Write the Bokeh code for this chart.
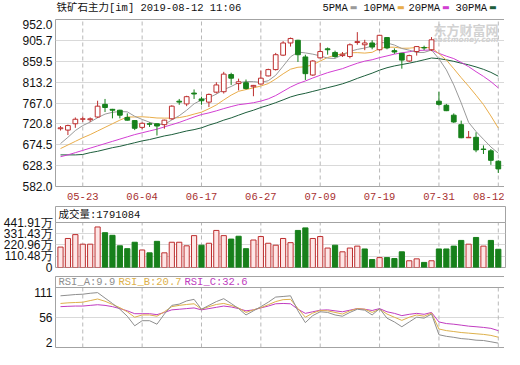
from bokeh.plotting import figure
from bokeh.layouts import column
from bokeh.models import Range1d, FixedTicker, Label, Span
from bokeh.embed import file_html
from bokeh.resources import INLINE

# ---------------- data ----------------
title_text = "铁矿石主力[im] 2019-08-12 11:06"

dates = ["05-20", "05-21", "05-22", "05-23", "05-24", "05-27", "05-28", "05-29", "05-30", "05-31",
         "06-03", "06-04", "06-05", "06-06", "06-10", "06-11", "06-12", "06-13", "06-14", "06-17",
         "06-18", "06-19", "06-20", "06-21", "06-24", "06-25", "06-26", "06-27", "06-28", "07-01",
         "07-02", "07-03", "07-04", "07-05", "07-08", "07-09", "07-10", "07-11", "07-12", "07-15",
         "07-16", "07-17", "07-18", "07-19", "07-22", "07-23", "07-24", "07-25", "07-26", "07-29",
         "07-30", "07-31", "08-01", "08-02", "08-05", "08-06", "08-07", "08-08", "08-09", "08-12"]

tick_dates = ["05-23", "06-04", "06-17", "06-27", "07-09", "07-19", "07-31", "08-12"]

opens = [710, 707, 721, 731, 730, 736, 764, 753, 751, 735,
         728, 713, 721, 721, 719, 732, 771, 765, 789, 776,
         769, 791, 792, 830, 810, 812, 803, 809, 827, 841,
         873, 900, 906, 869, 829, 867, 887, 879, 872, 870,
         901, 896, 900, 885, 912, 883, 877, 860, 881, 890,
         885, 771, 762, 740, 719, 690, 691, 665, 661, 638]
highs = [716, 719, 735, 737, 735, 772, 776, 754, 752, 744,
         729, 724, 724, 722, 730, 762, 776, 783, 797, 781,
         788, 813, 836, 834, 821, 819, 807, 839, 843, 878,
         904, 912, 907, 874, 862, 900, 890, 883, 880, 899,
         924, 907, 906, 918, 913, 888, 878, 874, 893, 894,
         913, 792, 765, 744, 728, 705, 702, 673, 665, 640]
lows = [706, 696, 712, 725, 725, 734, 747, 733, 733, 728,
        707, 709, 714, 695, 710, 730, 763, 760, 776, 763,
        758, 788, 788, 807, 795, 797, 782, 808, 826, 839,
        871, 892, 858, 818, 827, 866, 874, 867, 869, 866,
        896, 884, 886, 883, 886, 876, 843, 858, 872, 884,
        882, 761, 749, 723, 689, 690, 658, 654, 630, 612]
closes = [712, 717, 731, 732, 732, 760, 757, 751, 740, 729,
          711, 722, 720, 716, 729, 760, 769, 781, 787, 772,
          786, 807, 831, 822, 814, 799, 806, 822, 841, 874,
          900, 910, 874, 832, 860, 881, 885, 870, 875, 896,
          903, 900, 891, 917, 889, 880, 862, 872, 892, 889,
          907, 764, 750, 725, 690, 691, 663, 664, 640, 621]

ma5 = [677, 691, 706, 717, 724.8, 734.4, 742.4, 746.4, 748.0, 747.4,
       737.6, 730.6, 724.4, 719.6, 719.6, 729.4, 738.8, 751.0, 765.2, 773.8,
       779.0, 786.6, 796.6, 803.6, 812.0, 814.6, 814.4, 812.6, 816.4, 828.4,
       848.6, 869.4, 879.8, 878.0, 875.2, 871.4, 866.4, 865.6, 874.2, 881.4,
       885.8, 888.8, 893.0, 901.4, 900.0, 895.4, 887.8, 884.0, 879.0, 879.0,
       884.4, 864.8, 840.4, 807.0, 767.2, 724.0, 703.8, 686.6, 669.6, 655.8]
ma10 = [666, 674, 682, 690, 697, 705, 713, 721, 729, 736.1,
        736.0, 736.5, 735.4, 733.8, 733.5, 733.5, 734.7, 737.7, 742.4, 746.7,
        754.2, 762.7, 773.8, 784.4, 792.9, 796.8, 800.5, 804.6, 810.0, 820.2,
        831.6, 841.9, 846.2, 847.2, 851.8, 860.0, 867.9, 872.7, 876.1, 878.3,
        878.6, 877.6, 879.3, 887.8, 890.7, 890.6, 888.3, 888.5, 890.2, 889.5,
        889.9, 876.3, 862.2, 843.0, 823.1, 804.2, 784.3, 763.5, 738.3, 711.5]
ma20 = [648, 652, 657, 662, 667, 672, 677, 682, 687, 692,
        697, 701, 705, 709, 714, 719, 724, 730, 736, 741.4,
        745.1, 749.6, 754.6, 759.1, 763.2, 765.2, 767.6, 771.2, 776.2, 783.5,
        792.9, 802.3, 810.0, 815.8, 822.4, 828.4, 834.2, 838.7, 843.1, 849.3,
        855.1, 859.8, 862.8, 867.5, 871.3, 875.3, 878.1, 880.6, 883.2, 883.9,
        884.3, 877.0, 870.8, 865.4, 857.0, 847.5, 836.4, 826.0, 814.3, 800.5]
ma30 = [652, 652, 652, 653, 657, 660, 664, 668, 671, 675,
        679, 683, 686, 690, 694, 697, 701, 705, 708, 712,
        718, 723, 729, 734, 740, 746, 751, 757, 762, 767.7,
        773.9, 780.4, 785.1, 788.5, 792.7, 796.8, 801.0, 805.0, 809.5, 815.1,
        821.5, 827.4, 833.1, 839.8, 845.1, 849.1, 852.2, 855.3, 858.8, 862.7,
        866.7, 865.3, 862.6, 859.3, 855.2, 851.6, 846.9, 841.6, 834.9, 826.4]

# volume in 万 (10k)
volume = [200.6, 285, 323, 229, 229, 398, 342, 316, 213, 185,
          248, 172, 144, 257, 144, 248, 248, 213, 313, 219,
          238, 364, 313, 279, 307, 185, 270, 304, 238, 219,
          285, 244, 364, 389, 285, 304, 191, 219, 154, 191,
          210, 182, 78, 97, 97, 88, 154, 66, 85, 50,
          66, 182, 182, 210, 266, 229, 295, 210, 266, 179.1084]
# 1 = red (rising) bar, 0 = green (falling) bar
volume_up = [1, 1, 1, 1, 1, 1, 0, 0, 0, 0,
             0, 1, 0, 0, 1, 1, 1, 1, 1, 0,
             1, 1, 1, 0, 0, 0, 1, 1, 1, 1,
             1, 1, 0, 0, 1, 1, 1, 0, 1, 1,
             1, 0, 0, 1, 0, 0, 0, 1, 1, 0,
             1, 0, 0, 0, 0, 1, 0, 1, 0, 0]

rsi_a = [95.9, 97.0, 98.2, 98.8, 100.5, 101.7, 91.8, 82.0, 71.5, 58.8,
         41.4, 50.7, 50.7, 44.3, 62.8, 78.5, 80.8, 86.6, 89.5, 71.5,
         78.5, 85.4, 90.7, 82.0, 72.7, 61.1, 68.6, 76.2, 84.3, 93.6,
         94.7, 95.9, 68.6, 47.2, 60.0, 66.9, 65.7, 61.1, 58.8, 65.7,
         71.5, 69.8, 61.1, 72.7, 55.3, 48.4, 39.7, 48.4, 57.1, 55.3,
         62.8, 25.2, 22.3, 20.5, 18.2, 17.1, 15.3, 14.7, 12.4, 9.9]
rsi_b = [82.0, 83.1, 83.7, 84.3, 87.2, 90.1, 86.0, 80.2, 74.4, 66.9,
         57.0, 61.1, 61.1, 58.8, 66.9, 76.2, 78.5, 80.2, 81.4, 71.5,
         76.2, 80.2, 82.0, 78.5, 73.9, 65.7, 70.4, 74.4, 79.7, 85.4,
         88.9, 89.5, 72.7, 57.0, 64.6, 69.2, 68.6, 65.7, 62.8, 68.6,
         72.7, 71.5, 65.7, 71.5, 62.8, 57.0, 51.3, 57.0, 61.1, 58.8,
         64.6, 35.6, 32.7, 31.0, 29.2, 28.1, 26.9, 25.8, 24.0, 20.7]
rsi_c = [76.2, 76.8, 77.3, 77.3, 78.5, 79.7, 78.5, 76.2, 72.7, 68.6,
         63.4, 63.4, 63.4, 61.7, 65.7, 70.4, 71.5, 72.7, 73.9, 70.4,
         72.7, 75.0, 77.3, 75.6, 72.7, 68.6, 70.4, 73.9, 77.3, 81.4,
         82.0, 81.4, 71.5, 64.0, 66.9, 69.8, 70.4, 68.6, 66.9, 69.8,
         72.7, 71.5, 69.2, 72.7, 66.9, 64.0, 59.9, 62.3, 64.0, 62.3,
         65.7, 48.4, 45.5, 44.3, 42.6, 40.8, 39.7, 38.5, 36.8, 32.6]

price_ticks = [582.0, 628.25, 674.5, 720.75, 767.0, 813.25, 859.5, 905.75, 952.0]
price_tick_labels = ["582.0", "628.3", "674.5", "720.8", "767.0", "813.2", "859.5", "905.7", "952.0"]
vol_ticks = [0, 110.48, 220.96, 331.43, 441.91]
vol_tick_labels = ["0", "110.48万", "220.96万", "331.43万", "441.91万"]
rsi_ticks = [2, 56.5, 111]
rsi_tick_labels = ["2", "56", "111"]

ma_names = ["5PMA", "10PMA", "20PMA", "30PMA"]

# ---------------- styles ----------------
RED = "#bd2e2e"
PINK = "#fde6e6"
GREEN = "#17801b"
BORDER = "#a3a3a3"
HGRID = "#d9d9d9"
VGRID = "#b8b8b8"
MA_COLORS = ["#9a9a9a", "#e9ad4a", "#d23fd2", "#1d5e3c"]
RSI_COLORS = ["#8e8e8e", "#ddb04a", "#c03cc0"]
MONO = "Liberation Mono, Noto Sans CJK SC"
SANS = "Liberation Sans"

n = len(closes)
idx = list(range(n))
tick_idx = [dates.index(d) for d in tick_dates]

FRAME_W = 450
LEFT = 53
x_range = Range1d(-0.674, 59.97)


def make_fig(frame_h, top, bottom, y_range, with_xaxis):
    p = figure(frame_width=FRAME_W, frame_height=frame_h,
               min_border_left=LEFT, min_border_right=1,
               min_border_top=top, min_border_bottom=bottom,
               x_range=x_range, y_range=y_range,
               x_axis_location="below" if with_xaxis else None,
               output_backend="svg", toolbar_location=None)
    p.outline_line_color = BORDER
    p.outline_line_width = 1
    p.background_fill_color = "white"
    p.border_fill_color = "white"
    p.xgrid.visible = False
    p.ygrid.grid_line_color = HGRID
    p.yaxis.axis_line_color = None
    p.yaxis.major_tick_line_color = None
    p.yaxis.minor_tick_line_color = None
    p.yaxis.major_tick_out = 0
    p.yaxis.major_tick_in = 0
    p.yaxis.major_label_standoff = 3
    p.yaxis.major_label_text_font = SANS
    p.yaxis.major_label_text_font_size = "12px"
    p.yaxis.major_label_text_color = "#111111"
    return p


def add_text(p, x, y, text, color, size="10.5px", font=MONO, bold=False, italic=False, under=False):
    style = "bold" if bold else "normal"
    if bold and italic:
        style = "bold italic"
    lab = Label(x=x, y=y, x_units="screen", y_units="screen", text=text,
                text_color=color, text_font_size=size, text_font=font,
                text_font_style=style, text_baseline="middle", text_align="left")
    if under:
        lab.level = "underlay"
    p.add_layout(lab)


# ---------------- header strip (title + MA legend) ----------------
HEAD_H = 19
p0 = figure(frame_width=FRAME_W, frame_height=HEAD_H,
            min_border_left=LEFT, min_border_right=1, min_border_top=0, min_border_bottom=0,
            x_range=Range1d(0, 1), y_range=Range1d(0, 1),
            x_axis_location=None, y_axis_location=None,
            output_backend="svg", toolbar_location=None)
p0.outline_line_color = None
p0.xgrid.visible = False
p0.ygrid.visible = False
p0.background_fill_color = "white"
p0.border_fill_color = "white"
TY = HEAD_H - 7
add_text(p0, 1, TY, title_text, "#111111")
leg_x = [267, 308, 353, 400]
for name, col, lx in zip(ma_names, MA_COLORS, leg_x):
    add_text(p0, lx, TY, name, "#111111")
    add_text(p0, lx + 6.3 * len(name) + 2, TY, "▬", col, size="8px", font="DejaVu Sans")

# ---------------- main price panel ----------------
MAIN_H = 167
p1 = make_fig(MAIN_H, 0, 18, Range1d(price_ticks[0], price_ticks[-1]), True)
p1.yaxis.ticker = FixedTicker(ticks=price_ticks)
p1.yaxis.major_label_overrides = dict(zip(price_ticks, price_tick_labels))
p1.ygrid.ticker = FixedTicker(ticks=price_ticks)
p1.xaxis.ticker = FixedTicker(ticks=tick_idx)
p1.xaxis.major_label_overrides = {i: dates[i] for i in tick_idx}
p1.xaxis.axis_line_color = None
p1.xaxis.major_tick_line_color = None
p1.xaxis.minor_tick_line_color = None
p1.xaxis.major_tick_out = 0
p1.xaxis.major_tick_in = 0
p1.xaxis.major_label_standoff = 6
p1.xaxis.major_label_text_font = MONO
p1.xaxis.major_label_text_font_size = "10.5px"
p1.xaxis.major_label_text_color = "#a83030"

# watermark
add_text(p1, 378, MAIN_H - 10, "东方财富网", "#d2d2d2", size="13px", font="Noto Sans CJK SC", bold=True, under=True)
add_text(p1, 377, MAIN_H - 20, "eastmoney.com", "#d2d2d2", size="7.5px", font="DejaVu Sans", bold=True, italic=True, under=True)

p1.segment(x0=tick_idx, y0=[price_ticks[0]] * len(tick_idx), x1=tick_idx,
           y1=[price_ticks[-1]] * len(tick_idx), line_color=VGRID, line_dash="4 3", line_width=1)

up = [c >= o for o, c in zip(opens, closes)]
cols = [RED if u else GREEN for u in up]
fills = ["white" if u else GREEN for u in up]
body_top = [max(o, c) for o, c in zip(opens, closes)]
body_bot = [min(o, c) for o, c in zip(opens, closes)]

for ma, col in zip([ma30, ma20, ma10, ma5], MA_COLORS[::-1]):
    p1.line(idx, ma, line_color=col, line_width=1)

p1.segment(x0=idx, y0=lows, x1=idx, y1=highs, line_color=cols, line_width=1)
p1.vbar(x=idx, width=0.64, top=body_top, bottom=body_bot, fill_color=fills, line_color=cols, line_width=1)

# ---------------- volume panel ----------------
VOL_H = 61
VOL_DATA_H = 45
vol_top = vol_ticks[-1] * VOL_H / VOL_DATA_H
p2 = make_fig(VOL_H, 2, 9, Range1d(0, vol_top), False)
p2.yaxis.ticker = FixedTicker(ticks=vol_ticks)
p2.yaxis.major_label_overrides = dict(zip(vol_ticks, vol_tick_labels))
p2.ygrid.ticker = FixedTicker(ticks=vol_ticks)
p2.segment(x0=tick_idx, y0=[0] * len(tick_idx), x1=tick_idx,
           y1=[vol_ticks[-1]] * len(tick_idx), line_color=VGRID, line_dash="4 3", line_width=1)
p2.add_layout(Span(location=vol_ticks[-1], dimension="width", line_color=BORDER, line_width=1))
vcols = [RED if u else GREEN for u in volume_up]
vfills = [PINK if u else GREEN for u in volume_up]
p2.vbar(x=idx, width=0.7, top=volume, bottom=0, fill_color=vfills, line_color=vcols, line_width=1)
add_text(p2, 3, VOL_H - 8, "成交量:%d" % round(volume[-1] * 10000), "#111111")

# ---------------- RSI panel ----------------
RSI_H = 71
RSI_DATA_H = 60
units_px = (rsi_ticks[-1] - rsi_ticks[0]) / RSI_DATA_H
rsi_top = rsi_ticks[-1] + (RSI_H - RSI_DATA_H) * units_px
p3 = make_fig(RSI_H, 0, 2, Range1d(rsi_ticks[0], rsi_top), False)
# tick labels sit slightly inside the panel, as in the reference
rsi_label_pos = [rsi_ticks[0] + 5.4 * units_px, rsi_ticks[1], rsi_ticks[2] - 5.2 * units_px]
p3.yaxis.ticker = FixedTicker(ticks=rsi_label_pos)
p3.yaxis.major_label_overrides = dict(zip(rsi_label_pos, rsi_tick_labels))
p3.ygrid.ticker = FixedTicker(ticks=[rsi_ticks[1]])
p3.segment(x0=tick_idx, y0=[rsi_ticks[0]] * len(tick_idx), x1=tick_idx,
           y1=[rsi_ticks[-1]] * len(tick_idx), line_color=VGRID, line_dash="4 3", line_width=1)
p3.add_layout(Span(location=rsi_ticks[-1], dimension="width", line_color=BORDER, line_width=1))
for series, col in zip([rsi_c, rsi_b, rsi_a], RSI_COLORS[::-1]):
    p3.line(idx, series, line_color=col, line_width=1)
RY = RSI_H - 5.5
add_text(p3, 3, RY, "RSI_A:%s" % rsi_a[-1], RSI_COLORS[0])
add_text(p3, 63, RY, "RSI_B:%s" % rsi_b[-1], RSI_COLORS[1])
add_text(p3, 129, RY, "RSI_C:%s" % rsi_c[-1], RSI_COLORS[2])

layout = column(p0, p1, p2, p3)
open("out.html", "w").write(file_html(layout, INLINE))
